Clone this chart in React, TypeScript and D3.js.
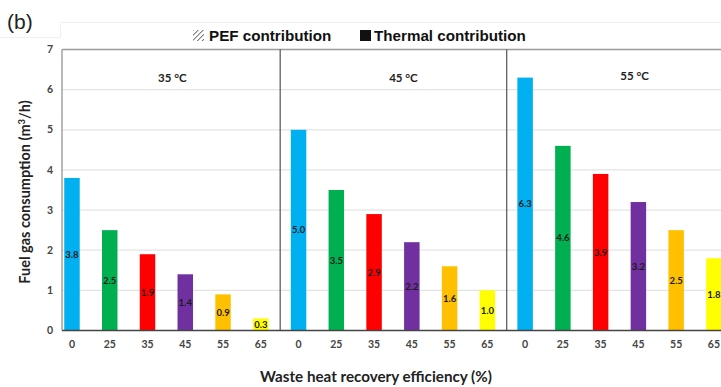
import React from "react";
import * as d3 from "d3";

// Fuel gas consumption per waste-heat-recovery efficiency, grouped by ambient temperature
const temperatures = ["35 °C", "45 °C", "55 °C"];
const efficiencies = ["0", "25", "35", "45", "55", "65"];
const consumption35 = [3.8, 2.5, 1.9, 1.4, 0.9, 0.3];
const consumption45 = [5.0, 3.5, 2.9, 2.2, 1.6, 1.0];
const consumption55 = [6.3, 4.6, 3.9, 3.2, 2.5, 1.8];
const barColors = ["#00B0F0", "#00B050", "#FF0000", "#7030A0", "#FFC000", "#FFFF00"];
const yTicks = [0, 1, 2, 3, 4, 5, 6, 7];
const legendLabels = ["PEF contribution", "Thermal contribution"];

const W = 721;
const H = 387;

export default function App() {
  const series = [consumption35, consumption45, consumption55];
  const rows = temperatures.flatMap((t, gi) =>
    efficiencies.map((e, i) => ({ key: `${gi}-${e}`, group: gi, eff: e, value: series[gi][i], color: barColors[i] }))
  );

  const plotLeft = 62;
  const plotRight = W;
  const plotTop = 49.5;
  const plotBottom = 330.5;

  const x = d3.scalePoint<string>().domain(rows.map((r) => r.key)).range([53.1, 732.8]).padding(0.5);
  const step = x.step();
  const barW = step * 0.41;
  const y = d3.scaleLinear().domain([0, 7]).range([plotBottom, plotTop]);

  const groupKeys = (gi: number) => efficiencies.map((e) => `${gi}-${e}`);
  const separators = [1, 2].map((gi) => {
    const prev = x(groupKeys(gi - 1)[5])!;
    const next = x(groupKeys(gi)[0])!;
    return (prev + next) / 2 + 0.5;
  });

  const tickFont = "Lato, 'Open Sans', sans-serif";

  return (
    <svg width={W} height={H} style={{ position: "absolute", left: 0, top: 0, background: "#fff" }}>
      <defs>
        <pattern id="hatch" width="3.5" height="3.5" patternUnits="userSpaceOnUse" patternTransform="rotate(45)">
          <rect width="3.5" height="3.5" fill="#fff" />
          <line x1="0" y1="0" x2="0" y2="3.5" stroke="#555" strokeWidth="1.6" />
        </pattern>
        <clipPath id="plotClip">
          <rect x={plotLeft} y={0} width={plotRight - plotLeft} height={H} />
        </clipPath>
      </defs>

      {/* panel label and faint frame of the legend strip */}
      <text x={7} y={29} fontFamily="'Liberation Sans', Arial, sans-serif" fontSize={21} fill="#222">(b)</text>
      <path d={`M0,37.5 H60.5 V22.5 H${W}`} fill="none" stroke="#f0f0f0" strokeWidth={1} />

      {/* legend */}
      <g fontFamily="'Liberation Sans', Arial, sans-serif" fontWeight="bold" fontSize={15.2} fill="#111">
        <rect x={193} y={30} width={11} height={11} fill="url(#hatch)" />
        <text x={209} y={41}>{legendLabels[0]}</text>
        <rect x={360} y={30} width={11} height={11} fill="#111" />
        <text x={374} y={41}>{legendLabels[1]}</text>
      </g>

      {/* horizontal gridlines */}
      {yTicks.filter((t) => t > 0 && t < 7).map((t) => (
        <line key={t} x1={plotLeft} x2={plotRight} y1={y(t)} y2={y(t)} stroke="#e4e4e4" strokeWidth={1.2} />
      ))}

      {/* bars */}
      <g clipPath="url(#plotClip)">
        {rows.map((r) => (
          <rect
            key={r.key}
            x={x(r.key)! - barW / 2}
            y={y(r.value)}
            width={barW}
            height={y(0) - y(r.value)}
            fill={r.color}
          />
        ))}
        {rows.map((r) => (
          <text
            key={`l-${r.key}`}
            x={x(r.key)!}
            y={(y(r.value) + y(0)) / 2}
            dy="0.35em"
            textAnchor="middle"
            fontFamily={tickFont}
            fontSize={9.5}
            fontWeight="bold"
            fill="#1a1a1a"
          >
            {r.value.toFixed(1)}
          </text>
        ))}
      </g>

      {/* plot frame, separators */}
      <line x1={plotLeft} x2={plotRight} y1={plotTop} y2={plotTop} stroke="#9a9a9a" strokeWidth={1.5} />
      <line x1={plotLeft} x2={plotLeft} y1={plotTop} y2={plotBottom} stroke="#8a8a8a" strokeWidth={1.2} />
      {separators.map((sx, i) => (
        <line key={i} x1={sx} x2={sx} y1={plotTop} y2={plotBottom} stroke="#444" strokeWidth={1.1} />
      ))}
      <line x1={plotLeft} x2={plotRight} y1={plotBottom} y2={plotBottom} stroke="#444" strokeWidth={1.3} />

      {/* group titles */}
      {temperatures.map((t, gi) => {
        const keys = groupKeys(gi);
        const cx = (x(keys[2])! + x(keys[3])!) / 2 + 6 + gi * 4.5;
        return (
          <text key={t} x={cx} y={gi === 2 ? 76 : 78} dy="0.35em" textAnchor="middle" fontFamily={tickFont} fontWeight="bold" fontSize={11.5} fill="#222">
            {t}
          </text>
        );
      })}

      {/* y axis ticks */}
      {yTicks.map((t) => (
        <text key={t} x={53} y={y(t)} dy="0.35em" textAnchor="end" fontFamily={tickFont} fontWeight="bold" fontSize={10.5} fill="#444">
          {t}
        </text>
      ))}

      {/* x axis ticks */}
      {rows.map((r) => (
        <text key={`t-${r.key}`} x={x(r.key)!} y={344.5} dy="0.35em" textAnchor="middle" fontFamily={tickFont} fontWeight="bold" fontSize={10.5} fill="#444">
          {r.eff}
        </text>
      ))}

      {/* axis titles */}
      <text x={376} y={377} dy="0.35em" textAnchor="middle" fontFamily={tickFont} fontWeight="bold" fontSize={15.2} fill="#222">
        Waste heat recovery efficiency (%)
      </text>
      <text
        transform={`translate(25,${(plotTop + plotBottom) / 2 + 2}) rotate(-90)`}
        dy="0.35em"
        textAnchor="middle"
        fontFamily={tickFont}
        fontWeight="bold"
        fontSize={14.5}
        fill="#222"
      >
        Fuel gas consumption (m<tspan baselineShift="super" fontSize={9.5}>3</tspan>/h)
      </text>
    </svg>
  );
}
